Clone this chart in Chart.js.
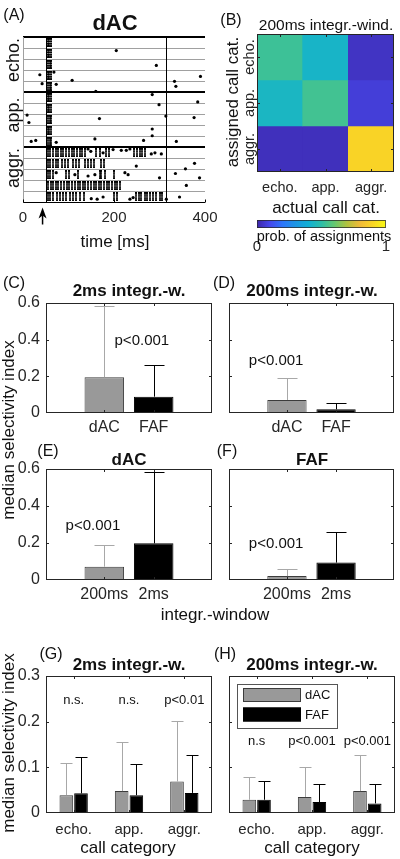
<!DOCTYPE html>
<html>
<head>
<meta charset="utf-8">
<title>dAC / FAF selectivity</title>
<script src="https://cdn.jsdelivr.net/npm/chart.js@4.4.1/dist/chart.umd.min.js"></script>
<style>
html, body { margin: 0; padding: 0; background: #fff; }
#fig { position: relative; width: 400px; height: 859px; overflow: hidden; font-family: "Liberation Sans", Arial, sans-serif; color: #111; }
#fig canvas { position: absolute; left: 0; top: 0; }
.lbl { position: absolute; white-space: nowrap; line-height: 1; transform: translate(-50%, -50%); }
.lbl.rot { transform: translate(-50%, -50%) rotate(-90deg); }
.lbl.bold { font-weight: bold; }
</style>
</head>
<body>
<div id="fig"></div>
<script>
// ---------- data ----------
// (A) raster of one dAC unit, 5 calls per category, time in ms
const rasterGroups = ['echo.', 'app.', 'aggr.'];
const timeTicks = [0, 200, 400];
const callMarks = [51, 315];
const arrowAt = 43;
// spike columns (trials stacked) for each call row, top row first
const burstRows = [
  [55, 58, 61],
  [55, 58, 62],
  [55, 59, 62],
  [55, 58, 61],
  [56, 59, 62],
  [55, 58, 61],
  [55, 58, 62],
  [56, 59, 62],
  [55, 58, 61],
  [55, 59, 62],
  [55, 60, 66, 72, 77, 83, 89, 95, 101, 107, 113, 119, 125, 130, 136, 161, 169, 183, 189, 245, 251, 257, 262, 268],
  [55, 60, 66, 72, 77, 86, 92, 99, 110, 116, 122, 136, 143, 149, 155, 172, 178],
  [55, 60, 66, 95, 101, 121, 169, 172, 180, 201],
  [55, 61, 67, 73, 78, 84, 90, 96, 102, 108, 114, 120, 125, 131, 137, 143, 149, 155, 161, 166, 172, 178, 184, 190, 196, 202, 207, 213],
  [55, 60, 66, 75, 81, 88, 95, 103, 110, 117, 125, 134, 201, 207, 249, 255, 260, 268, 273, 280, 286, 293, 300, 306]
];
// single spikes [time ms, row position]
const singleSpikes = [
  [205, 1.23], [293, 2.58], [37, 3.42], [68, 3.18], [42, 4.23], [73, 4.29], [108, 3.93], [333, 4.02], [336, 4.47], [390, 3.57], [160, 4.92],
  [284, 5.22], [299, 6.13], [384, 5.88], [9, 7.08], [13, 7.75], [168, 7.39], [314, 7.17], [376, 7.3], [284, 8.34], [284, 8.95],
  [18, 9.46], [28, 9.37], [73, 9.55], [158, 9.24], [265, 9.37], [337, 9.46],
  [143, 10.15], [149, 10.36], [176, 10.5], [198, 10.2], [216, 10.27], [227, 10.27], [235, 10.15], [282, 10.6], [290, 10.5], [304, 10.6],
  [249, 11.7], [377, 11.45],
  [73, 12.3], [114, 12.48], [143, 12.6], [158, 12.48], [224, 12.3], [231, 12.48], [300, 12.76], [335, 12.37], [357, 11.95], [388, 12.76],
  [359, 13.45],
  [150, 14.65], [163, 14.7], [176, 14.5], [235, 14.7], [242, 14.55], [315, 14.7], [344, 14.5]
];

// (B) confusion matrix, rows = assigned, columns = actual
const callCats = ['echo.', 'app.', 'aggr.'];
const assignEcho = [0.53, 0.43, 0.04];
const assignApp = [0.44, 0.54, 0.07];
const assignAggr = [0.03, 0.03, 0.89];
const cbarTicks = [0, 1];

// (C)-(F) median selectivity index and upper error
const areas = ['dAC', 'FAF'];
const windows = ['200ms', '2ms'];
const selTicks = [0, 0.2, 0.4, 0.6];
const medC = [0.195, 0.089];  const upC = [0.585, 0.262];
const medD = [0.071, 0.020];  const upD = [0.189, 0.056];
const medE = [0.072, 0.198];  const upE = [0.189, 0.585];
const medF = [0.021, 0.094];  const upF = [0.059, 0.261];

// (G)-(H) per call category
const catTicks = [0, 0.1, 0.2, 0.3];
const gDAC = [0.039, 0.048, 0.069];  const gDACup = [0.110, 0.156, 0.202];
const gFAF = [0.043, 0.039, 0.044];  const gFAFup = [0.122, 0.108, 0.126];
const hDAC = [0.029, 0.035, 0.048];  const hDACup = [0.078, 0.100, 0.128];
const hFAF = [0.029, 0.024, 0.021];  const hFAFup = [0.069, 0.063, 0.063];
const sigG = ['n.s.', 'n.s.', 'p<0.01'];
const sigH = ['n.s', 'p<0.001', 'p<0.001'];

// ---------- style ----------
const fontFam = '"Liberation Sans", Arial, Helvetica, sans-serif';
const ink = '#262626';
const gray = '#999999', grayEdge = '#3c3c3c', grayErr = '#a8a8a8';
const parula = [
  [0.00, [62, 38, 168]], [0.10, [70, 72, 236]], [0.20, [44, 118, 250]], [0.30, [28, 150, 228]],
  [0.40, [16, 176, 212]], [0.50, [44, 190, 168]], [0.60, [100, 200, 112]], [0.70, [178, 194, 62]],
  [0.80, [240, 186, 56]], [0.90, [250, 214, 36]], [1.00, [249, 250, 20]]
];
function cmap(v) {
  for (let i = 1; i < parula.length; i++) {
    if (v <= parula[i][0]) {
      const [a, ca] = parula[i - 1], [b, cb] = parula[i];
      const f = (v - a) / (b - a);
      const c = ca.map((x, k) => Math.round(x + (cb[k] - x) * f));
      return `rgb(${c[0]},${c[1]},${c[2]})`;
    }
  }
  return 'rgb(249,250,20)';
}

Chart.defaults.font.family = fontFam;
Chart.defaults.color = ink;
Chart.defaults.animation = false;
Chart.defaults.responsive = false;
Chart.defaults.events = [];
Chart.defaults.plugins.legend.display = false;
Chart.defaults.plugins.tooltip.enabled = false;

const fig = document.getElementById('fig');
function canvas() {
  const c = document.createElement('canvas');
  c.width = 400; c.height = 859;
  fig.appendChild(c);
  return c;
}
// chart area = box; yw / xh = room kept for the y tick labels / x tick labels
function pad(l, t, r, b, yw, xh) { return { left: l - yw, top: t, right: 400 - r, bottom: 859 - b - xh }; }
function fitTo(size) { return s => { if (s.isHorizontal()) s.height = size; else s.width = size; }; }
const noGrid = { display: false, drawTicks: false };

// ---------- plugins ----------
const boxTicks = {
  id: 'boxTicks',
  afterDraw(chart, args, o) {
    const { ctx, chartArea: a } = chart;
    const L = o.len || 3;
    ctx.save();
    ctx.strokeStyle = o.color || ink;
    ctx.lineWidth = 1;
    ctx.beginPath();
    const x = chart.scales.x, y = chart.scales.y;
    if (o.xt) x.ticks.forEach((t, i) => {
      const p = Math.round(x.getPixelForTick(i)) + 0.5;
      if (p < a.left + 2 || p > a.right - 2) return;
      ctx.moveTo(p, a.bottom); ctx.lineTo(p, a.bottom - L);
      ctx.moveTo(p, a.top); ctx.lineTo(p, a.top + L);
    });
    if (o.yt) y.ticks.forEach((t, i) => {
      const p = Math.round(y.getPixelForTick(i)) + 0.5;
      if (p < a.top + 2 || p > a.bottom - 2) return;
      ctx.moveTo(a.left, p); ctx.lineTo(a.left + L, p);
      ctx.moveTo(a.right, p); ctx.lineTo(a.right - L, p);
    });
    ctx.stroke();
    ctx.strokeRect(Math.round(a.left) + 0.5, Math.round(a.top) + 0.5, Math.round(a.right - a.left) - 1, Math.round(a.bottom - a.top) - 1);
    ctx.restore();
  }
};

const errorBars = {
  id: 'errorBars',
  afterDatasetsDraw(chart, args, o) {
    const { ctx } = chart;
    const y = chart.scales.y;
    ctx.save();
    ctx.lineWidth = 1;
    chart.data.datasets.forEach((ds, i) => {
      if (!ds.upper) return;
      chart.getDatasetMeta(i).data.forEach((bar, j) => {
        const px = Math.round(bar.x) + 0.5;
        const top = Math.round(y.getPixelForValue(ds.upper[j])) + 0.5;
        ctx.strokeStyle = Array.isArray(ds.errColor) ? ds.errColor[j] : ds.errColor;
        ctx.beginPath();
        ctx.moveTo(px, bar.y); ctx.lineTo(px, top);
        ctx.moveTo(px - o.cap / 2, top); ctx.lineTo(px + o.cap / 2, top);
        ctx.stroke();
      });
    });
    ctx.restore();
  }
};

const notes = {
  id: 'notes',
  afterDraw(chart, args, o) {
    if (!o.items) return;
    const { ctx } = chart;
    ctx.save();
    ctx.font = `${o.size}px ${fontFam}`;
    ctx.fillStyle = '#111';
    ctx.textAlign = 'center';
    ctx.textBaseline = 'middle';
    o.items.forEach(it => {
      ctx.fillText(it[0], chart.scales.x.getPixelForValue(it[1]), chart.scales.y.getPixelForValue(it[2]));
    });
    ctx.restore();
  }
};

const boxLegend = {
  id: 'boxLegend',
  afterDraw(chart, args, o) {
    if (!o.show) return;
    const { ctx, chartArea: a } = chart;
    const x0 = a.left + 8, y0 = a.top + 8;
    ctx.save();
    ctx.fillStyle = '#fff';
    ctx.fillRect(x0, y0, 100, 44);
    ctx.strokeStyle = '#555';
    ctx.lineWidth = 1;
    ctx.strokeRect(x0 + 0.5, y0 + 0.5, 100, 44);
    ctx.font = `13px ${fontFam}`;
    ctx.textBaseline = 'middle';
    chart.data.datasets.forEach((ds, i) => {
      const yy = y0 + 4 + i * 19.5;
      ctx.fillStyle = ds.backgroundColor;
      ctx.fillRect(x0 + 6, yy, 58, 14);
      ctx.strokeStyle = ds.borderColor;
      ctx.strokeRect(x0 + 6.5, yy + 0.5, 57, 13);
      ctx.fillStyle = '#111';
      ctx.fillText(ds.label, x0 + 68, yy + 7.5);
    });
    ctx.restore();
  }
};

const sideLabels = {
  id: 'sideLabels',
  afterDraw(chart, args, o) {
    if (!o.labels) return;
    const { ctx } = chart;
    const y = chart.scales.y;
    ctx.save();
    ctx.font = `${o.size}px ${fontFam}`;
    ctx.fillStyle = ink;
    ctx.textAlign = 'center';
    ctx.textBaseline = 'middle';
    o.labels.forEach((t, i) => {
      ctx.save();
      ctx.translate(o.x, y.getPixelForValue(i));
      ctx.rotate(-Math.PI / 2);
      ctx.fillText(t, 0, 0);
      ctx.restore();
    });
    ctx.restore();
  }
};

const rasterDeco = {
  id: 'rasterDeco',
  beforeDatasetsDraw(chart, args, o) {
    const { ctx, chartArea: a, scales: { x } } = chart;
    ctx.save();
    ctx.lineWidth = 1;
    ctx.strokeStyle = '#a0a0a0';
    ctx.beginPath();
    ctx.moveTo(a.left + 0.5, a.top); ctx.lineTo(a.left + 0.5, a.bottom);
    ctx.stroke();
    ctx.strokeStyle = '#000';
    ctx.beginPath();
    o.marks.forEach(t => {
      const p = Math.round(x.getPixelForValue(t)) + 0.5;
      ctx.moveTo(p, a.top); ctx.lineTo(p, a.bottom);
    });
    ctx.stroke();
    ctx.restore();
  },
  afterDraw(chart, args, o) {
    const { ctx, chartArea: a, scales: { x } } = chart;
    const p = x.getPixelForValue(o.arrow);
    ctx.save();
    ctx.fillStyle = '#000';
    ctx.strokeStyle = '#000';
    ctx.lineWidth = 1.5;
    ctx.beginPath();
    ctx.moveTo(p, a.bottom + 12); ctx.lineTo(p, a.bottom + 22);
    ctx.stroke();
    ctx.beginPath();
    ctx.moveTo(p, a.bottom + 5);
    ctx.lineTo(p + 4, a.bottom + 16);
    ctx.lineTo(p, a.bottom + 13);
    ctx.lineTo(p - 4, a.bottom + 16);
    ctx.closePath();
    ctx.fill();
    ctx.lineWidth = 1;
    ctx.beginPath();
    x.ticks.forEach((t, i) => {
      const q = Math.round(x.getPixelForTick(i)) + 0.5;
      ctx.moveTo(q, a.bottom); ctx.lineTo(q, a.bottom - 3);
    });
    ctx.stroke();
    ctx.restore();
  }
};

// ---------- (A) raster ----------
const burstMark = document.createElement('canvas');
burstMark.width = 2; burstMark.height = 9;
(function () {
  const c = burstMark.getContext('2d');
  c.fillStyle = '#000';
  [0, 2.4, 4.8, 7.1].forEach(v => c.fillRect(0, v, 2, 1.9));
})();
const burstPts = [];
burstRows.forEach((times, r) => times.forEach(t => burstPts.push({ x: t, y: r + 0.5 })));
const spikePts = singleSpikes.map(s => ({ x: s[0], y: s[1] }));

new Chart(canvas(), {
  type: 'scatter',
  data: {
    datasets: [
      { data: burstPts, pointStyle: burstMark, pointRadius: 4, backgroundColor: '#000', borderWidth: 0 },
      { data: spikePts, pointStyle: 'circle', pointRadius: 1.6, backgroundColor: '#000', borderWidth: 0 }
    ]
  },
  options: {
    layout: { padding: pad(23, 37, 205, 202.5, 0, 40) },
    scales: {
      x: {
        type: 'linear', min: 0, max: 400,
        afterBuildTicks: s => { s.ticks = timeTicks.map(v => ({ value: v })); },
        ticks: { font: { size: 15 }, padding: 6, color: ink },
        grid: noGrid, border: { display: false }, afterFit: fitTo(40)
      },
      y: {
        type: 'linear', min: 0, max: 15, reverse: true,
        ticks: { stepSize: 1, display: false },
        grid: {
          drawTicks: false,
          color: c => (c.tick.value % 5 === 0 ? '#000' : '#a0a0a0'),
          lineWidth: c => (c.tick.value % 5 === 0 && c.tick.value < 15 ? 2 : 1)
        },
        border: { display: false }, afterFit: fitTo(0)
      }
    },
    plugins: { rasterDeco: { marks: callMarks, arrow: arrowAt } }
  },
  plugins: [rasterDeco]
});

// ---------- (B) confusion matrix ----------
const assignRows = [assignEcho, assignApp, assignAggr];
new Chart(canvas(), {
  type: 'bar',
  data: {
    labels: callCats,
    datasets: assignRows.map((row, r) => ({
      data: row.map(() => [r - 0.5, r + 0.5]),
      backgroundColor: row.map(cmap),
      grouped: false, barPercentage: 1, categoryPercentage: 1, borderWidth: 0
    }))
  },
  options: {
    layout: { padding: pad(257, 34, 394, 172, 0, 30) },
    scales: {
      x: { ticks: { font: { size: 14.5 }, padding: 7, color: ink }, grid: noGrid, border: { display: false }, afterFit: fitTo(30) },
      y: {
        type: 'linear', min: -0.5, max: 2.5, reverse: true,
        afterBuildTicks: s => { s.ticks = callCats.map((c, i) => ({ value: i })); },
        ticks: { display: false }, grid: noGrid, border: { display: false }, afterFit: fitTo(0)
      }
    },
    plugins: {
      boxTicks: { xt: true, yt: true, len: 3 },
      sideLabels: { labels: callCats, x: 250, size: 14.5 }
    }
  },
  plugins: [boxTicks, sideLabels]
});

// colour bar
new Chart(canvas(), {
  type: 'bar',
  data: {
    labels: ['prob'],
    datasets: [{
      data: [[0, 1]],
      backgroundColor: c => {
        const a = c.chart.chartArea;
        if (!a) return null;
        const g = c.chart.ctx.createLinearGradient(a.left, 0, a.right, 0);
        parula.forEach(s => g.addColorStop(s[0], `rgb(${s[1].join(',')})`));
        return g;
      },
      borderColor: ink, borderWidth: 1, borderSkipped: false,
      barPercentage: 1, categoryPercentage: 1
    }]
  },
  options: {
    indexAxis: 'y',
    layout: { padding: pad(257, 220, 394, 228, 0, 40) },
    scales: {
      x: {
        type: 'linear', min: 0, max: 1,
        afterBuildTicks: s => { s.ticks = cbarTicks.map(v => ({ value: v })); },
        ticks: { font: { size: 15 }, padding: 10, color: ink },
        grid: noGrid, border: { display: false }, afterFit: fitTo(40)
      },
      y: { ticks: { display: false }, grid: noGrid, border: { display: false }, afterFit: fitTo(0) }
    }
  }
});

// ---------- (C)-(F) two-bar panels ----------
function pairPanel(box, labels, med, up, showY, note) {
  const yw = showY ? 40 : 0;
  new Chart(canvas(), {
    type: 'bar',
    data: {
      datasets: [{
        data: med.map((v, i) => ({ x: i + 1, y: v })),
        upper: up,
        backgroundColor: [gray, '#000'],
        borderColor: [grayEdge, '#000'],
        errColor: [grayErr, '#000'],
        borderWidth: 1, borderSkipped: false,
        barPercentage: 0.8, categoryPercentage: 1
      }]
    },
    options: {
      layout: { padding: pad(box[0], box[1], box[2], box[3], yw, 30) },
      scales: {
        x: {
          type: 'linear', min: -0.18, max: 3.18, offset: false,
          afterBuildTicks: s => { s.ticks = labels.map((l, i) => ({ value: i + 1 })); },
          ticks: { callback: v => labels[v - 1], font: { size: 16 }, padding: 5, color: ink },
          grid: noGrid, border: { display: false }, afterFit: fitTo(30)
        },
        y: {
          type: 'linear', min: 0, max: 0.6,
          afterBuildTicks: s => { s.ticks = selTicks.map(v => ({ value: v })); },
          ticks: { display: showY, callback: v => String(v), font: { size: 16 }, padding: 6, color: ink },
          grid: noGrid, border: { display: false }, afterFit: fitTo(yw)
        }
      },
      plugins: {
        boxTicks: { xt: true, yt: true, len: 3 },
        errorBars: { cap: 20 },
        notes: { items: [note], size: 15 }
      }
    },
    plugins: [errorBars, boxTicks, notes]
  });
}
pairPanel([46, 303, 212, 413], areas, medC, upC, true, ['p<0.001', 1.76, 0.395]);
pairPanel([229, 303, 394, 413], areas, medD, upD, false, ['p<0.001', 0.78, 0.284]);
pairPanel([46, 469, 212, 580], windows, medE, upE, true, ['p<0.001', 0.77, 0.29]);
pairPanel([229, 469, 394, 580], windows, medF, upF, false, ['p<0.001', 0.78, 0.195]);

// ---------- (G)-(H) grouped panels ----------
function catPanel(box, dac, dacUp, faf, fafUp, sig, sigY, showY, legend) {
  const yw = showY ? 40 : 0;
  new Chart(canvas(), {
    type: 'bar',
    data: {
      labels: callCats,
      datasets: [
        { label: 'dAC', data: dac, upper: dacUp, backgroundColor: gray, borderColor: grayEdge, errColor: grayErr, borderWidth: 1, borderSkipped: false },
        { label: 'FAF', data: faf, upper: fafUp, backgroundColor: '#000', borderColor: '#000', errColor: '#000', borderWidth: 1, borderSkipped: false }
      ]
    },
    options: {
      categoryPercentage: 0.53, barPercentage: 0.93,
      layout: { padding: pad(box[0], box[1], box[2], box[3], yw, 30) },
      scales: {
        x: { ticks: { font: { size: 15 }, padding: 8, color: ink }, grid: noGrid, border: { display: false }, afterFit: fitTo(30) },
        y: {
          type: 'linear', min: 0, max: 0.3,
          afterBuildTicks: s => { s.ticks = catTicks.map(v => ({ value: v })); },
          ticks: { display: showY, callback: v => String(v), font: { size: 16 }, padding: 6, color: ink },
          grid: noGrid, border: { display: false }, afterFit: fitTo(yw)
        }
      },
      plugins: {
        boxTicks: { xt: true, yt: true, len: 3 },
        errorBars: { cap: 12 },
        notes: { items: sig.map((s, i) => [s, i, sigY]), size: 13 },
        boxLegend: { show: legend }
      }
    },
    plugins: [errorBars, boxTicks, notes, boxLegend]
  });
}
catPanel([46, 676, 212, 813], gDAC, gDACup, gFAF, gFAFup, sigG, 0.246, true, false);
catPanel([229, 676, 395, 813], hDAC, hDACup, hFAF, hFAFup, sigH, 0.156, false, true);

// ---------- free text ----------
const texts = [
  ['(A)', 14, 15, 16], ['dAC', 115, 23, 22, 'bold'],
  [rasterGroups[0], 13, 60, 18, 'rot'], [rasterGroups[1], 13, 115, 18, 'rot'], [rasterGroups[2], 13, 168, 18, 'rot'],
  ['time [ms]', 115, 241, 17],
  ['(B)', 231, 20, 16], ['200ms integr.-wind.', 326, 25, 15.5],
  ['assigned call cat.', 232, 102, 17, 'rot'], ['actual call cat.', 326, 207, 17],
  ['prob. of assignments', 324, 236, 14.5],
  ['(C)', 14, 283, 16], ['2ms integr.-w.', 129, 290, 17, 'bold'],
  ['(D)', 224, 283, 16], ['200ms integr.-w.', 312, 290, 17, 'bold'],
  ['(E)', 48, 451, 16], ['dAC', 129, 459, 17, 'bold'],
  ['(F)', 227, 451, 16], ['FAF', 312, 459, 17, 'bold'],
  ['median selectivity index', 8, 430, 17, 'rot'], ['integr.-window', 215, 614, 17],
  ['(G)', 51, 654, 16], ['2ms integr.-w.', 129, 664, 17, 'bold'],
  ['(H)', 225, 654, 16], ['200ms integr.-w.', 312, 664, 17, 'bold'],
  ['median selectivity index', 8, 743, 17, 'rot'],
  ['call category', 128, 847, 17], ['call category', 312, 847, 17]
];
texts.forEach(t => {
  const d = document.createElement('div');
  d.className = 'lbl' + (t[4] ? ' ' + t[4] : '');
  d.textContent = t[0];
  d.style.left = t[1] + 'px';
  d.style.top = t[2] + 'px';
  d.style.fontSize = t[3] + 'px';
  fig.appendChild(d);
});
</script>
</body>
</html>
